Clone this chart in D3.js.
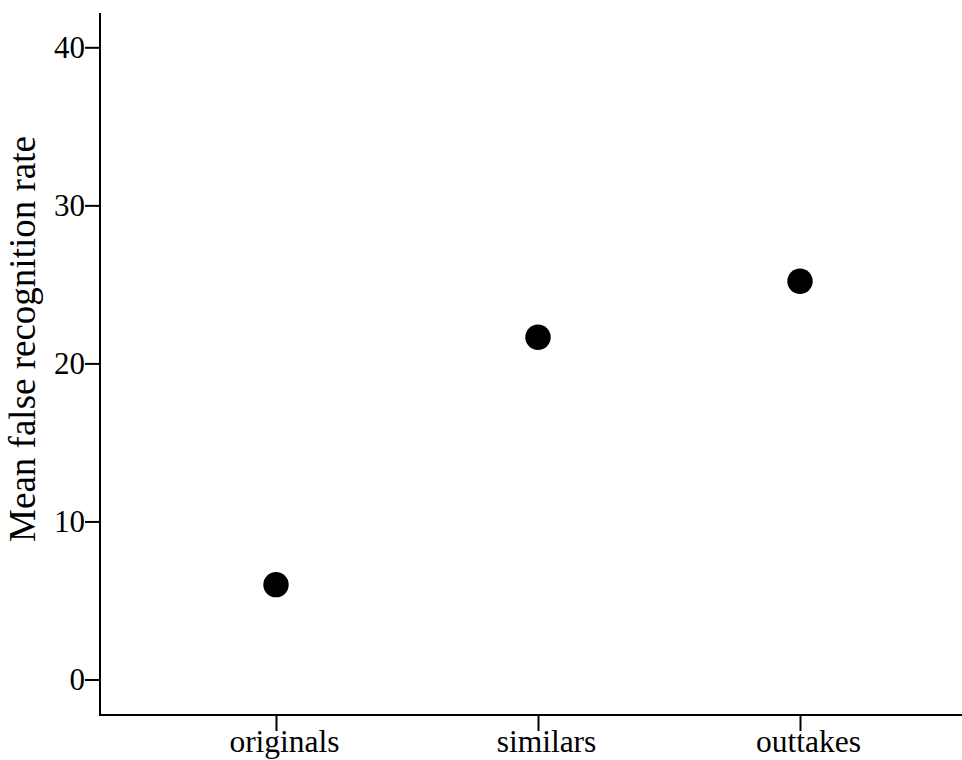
<!DOCTYPE html>
<html>
<head>
<meta charset="utf-8">
<script src="https://cdn.jsdelivr.net/npm/d3@7"></script>
<style>
  html, body { margin: 0; padding: 0; background: #fff; }
  svg { display: block; }
  .axis text { font-family: "Liberation Serif", "Times New Roman", serif; fill: #000; }
  .axis line { stroke: #000; stroke-width: 2px; }
  .y-axis text { font-size: 31px; }
  .x-axis text { font-size: 31.5px; }
</style>
</head>
<body>
<svg id="chart" width="962" height="760"></svg>
<script>
// Conditions and their mean false recognition rates
const categories = ["originals", "similars", "outtakes"];
const meanRates = [6.0, 21.65, 25.2];
const yTickValues = [0, 10, 20, 30, 40];

const svg = d3.select("#chart");

// Plot frame: y axis line at x=100, x axis line at y=715
const frame = { left: 100, right: 962, top: 13, bottom: 715 };

const y = d3.scaleLinear().domain([0, 40]).range([679.5, 47.3]);
const x = d3.scalePoint().domain(categories).range([276, 800]);

// Axis lines
svg.append("line")
  .attr("x1", frame.left).attr("x2", frame.left)
  .attr("y1", frame.top).attr("y2", frame.bottom + 1)
  .attr("stroke", "#000").attr("stroke-width", 2);
svg.append("line")
  .attr("x1", frame.left - 1).attr("x2", frame.right)
  .attr("y1", frame.bottom).attr("y2", frame.bottom)
  .attr("stroke", "#000").attr("stroke-width", 2);

// Y axis ticks and labels
const yAxis = svg.append("g")
  .attr("class", "axis y-axis")
  .attr("transform", `translate(${frame.left},0)`)
  .call(d3.axisLeft(y).tickValues(yTickValues).tickSize(15).tickPadding(0).tickFormat(d3.format("d")));
yAxis.select(".domain").remove();

// X axis ticks and labels
const xAxis = svg.append("g")
  .attr("class", "axis x-axis")
  .attr("transform", `translate(0,${frame.bottom})`)
  .call(d3.axisBottom(x).tickSize(16).tickPadding(-1));
xAxis.select(".domain").remove();
xAxis.selectAll(".tick text").attr("dx", 8);

// Y axis title
svg.append("text")
  .attr("transform", "translate(35,339) rotate(-90)")
  .attr("text-anchor", "middle")
  .style("font-family", "'Liberation Serif', 'Times New Roman', serif")
  .style("font-size", "37px")
  .text("Mean false recognition rate");

// Points
svg.append("g")
  .selectAll("circle")
  .data(categories.map((c, i) => ({ c, v: meanRates[i] })))
  .join("circle")
  .attr("cx", d => x(d.c))
  .attr("cy", d => y(d.v))
  .attr("r", 12.7)
  .attr("fill", "#000");
</script>
</body>
</html>
